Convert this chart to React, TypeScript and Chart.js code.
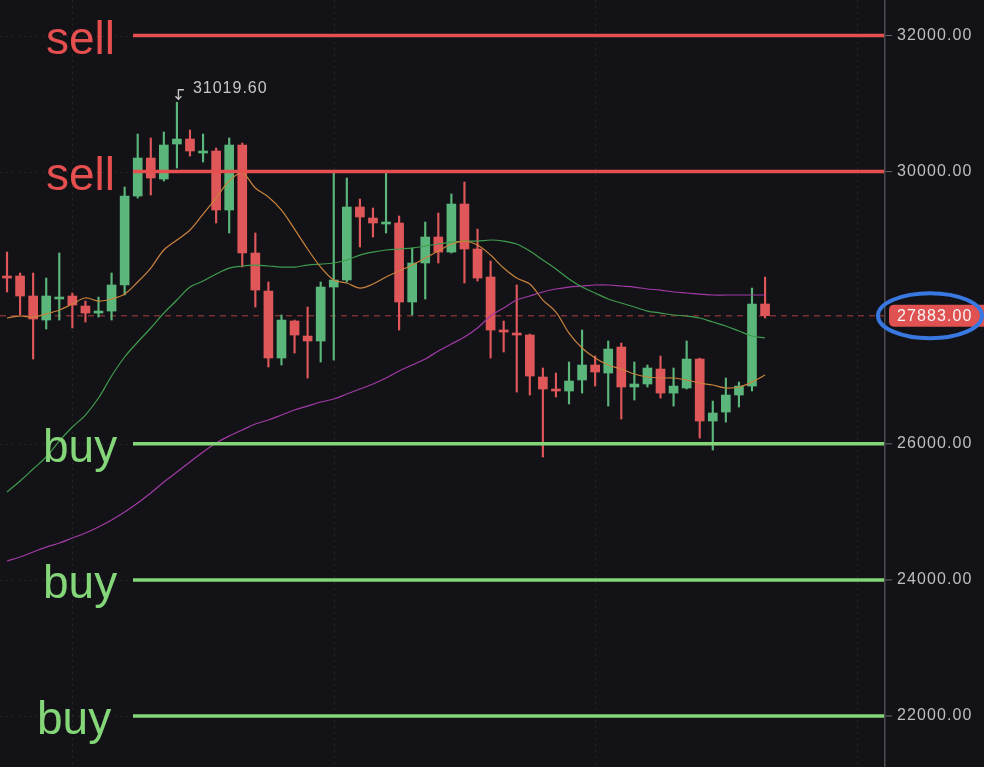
import React, { useEffect, useRef } from 'react';
import { Chart, registerables } from 'chart.js';

Chart.register(...registerables);

// ---- data ----
const opens = [28466, 28466, 28172, 27819, 28128, 28172, 28025, 27922, 27951, 28334, 29641, 30200, 29891, 30406, 30479, 30273, 30303, 29436, 30391, 28804, 28245, 27261, 27805, 27584, 27511, 28304, 28407, 29480, 29318, 29230, 29245, 28084, 28657, 29039, 28818, 29524, 28863, 28451, 27672, 27628, 27599, 26982, 26805, 26776, 26938, 27158, 27040, 27422, 26835, 26879, 27099, 26746, 26820, 27246, 26335, 26467, 26717, 26849, 28054];
const highs = [28818, 28510, 28510, 28436, 28804, 28216, 28098, 28157, 28510, 29774, 30552, 30494, 30582, 31019.6, 30611, 30552, 30347, 30494, 30420, 29098, 28378, 27893, 27819, 28010, 28378, 29994, 29906, 29597, 29465, 29979, 29348, 28877, 29259, 29392, 29671, 29847, 29156, 28686, 27805, 28334, 27614, 27114, 27040, 27202, 27672, 27290, 27511, 27481, 27202, 27158, 27290, 27114, 27511, 27260, 26629, 26967, 26908, 28289, 28451];
const lows = [28231, 27893, 27246, 27687, 27819, 27702, 27790, 27863, 27819, 28187, 29612, 29656, 29862, 30053, 30229, 30141, 29245, 29098, 28598, 28010, 27129, 27158, 27334, 26967, 27202, 27231, 28378, 28892, 29039, 29098, 27672, 27893, 28128, 28657, 28804, 28363, 28392, 27261, 27349, 26761, 26717, 25806, 26688, 26585, 26746, 26849, 26555, 26364, 26644, 26835, 26673, 26555, 26805, 26085, 25909, 26320, 26541, 26776, 27849];
const closes = [28436, 28172, 27834, 28172, 28157, 28040, 27922, 27951, 28334, 29641, 30200, 29906, 30391, 30479, 30303, 30303, 29436, 30391, 28804, 28260, 27261, 27819, 27599, 27511, 28304, 28407, 29480, 29333, 29245, 29259, 28084, 28657, 29039, 28818, 29524, 28863, 28436, 27672, 27643, 27599, 26996, 26805, 26776, 26923, 27158, 27055, 27393, 26835, 26879, 27114, 26746, 26849, 27246, 26335, 26453, 26717, 26849, 28054, 27883];

const maFast = [27849, 27878, 27863, 27907, 27966, 28054, 28143, 28098, 28128, 28201, 28378, 28583, 28848, 28995, 29142, 29377, 29612, 29862, 29979, 29759, 29627, 29436, 29156, 28863, 28598, 28407, 28363, 28289, 28348, 28451, 28539, 28627, 28730, 28833, 28936, 28980, 28921, 28774, 28583, 28436, 28348, 28113, 27937, 27628, 27408, 27261, 27158, 27099, 27026, 26982, 26967, 26967, 26938, 26893, 26864, 26820, 26835, 26908, 27011];
const maMid = [25292, 25453, 25630, 25806, 26041, 26247, 26423, 26673, 26996, 27276, 27496, 27702, 27922, 28113, 28304, 28392, 28495, 28583, 28613, 28627, 28613, 28598, 28598, 28627, 28642, 28657, 28701, 28774, 28818, 28848, 28863, 28877, 28907, 28936, 28965, 28980, 28980, 28995, 28980, 28936, 28833, 28701, 28569, 28422, 28304, 28216, 28128, 28069, 28010, 27951, 27922, 27893, 27878, 27849, 27790, 27731, 27658, 27584, 27555];
const maSlow = [24278, 24337, 24410, 24483, 24542, 24616, 24689, 24777, 24880, 24998, 25130, 25277, 25439, 25586, 25733, 25879, 26012, 26115, 26203, 26291, 26350, 26423, 26497, 26555, 26614, 26658, 26732, 26805, 26879, 26967, 27070, 27158, 27246, 27364, 27467, 27569, 27702, 27878, 27996, 28113, 28172, 28231, 28275, 28304, 28319, 28334, 28334, 28319, 28304, 28275, 28260, 28231, 28216, 28201, 28187, 28187, 28187, 28187, 28187];

const sellLevels = [32000, 30000];
const buyLevels = [26000, 24000, 22000];
const sellText = 'sell';
const buyText = 'buy';
const yTickValues = [22000, 24000, 26000, 30000, 32000];
const xGridIndex = [5, 25, 45, 65];

// ---- styles ----
const BG = '#131317';
const UP = '#5ab67a';
const DOWN = '#e0575a';
const SELL = '#e64f4f';
const BUY = '#84d679';
const FONT = "'Liberation Sans', Arial, Helvetica, sans-serif";

const Y_MIN = 21251;
const Y_MAX = 32522;
const X_MIN = -0.536;
const X_MAX = 67.1;

const overlay = {
  id: 'overlay',
  beforeDraw(chart: any) {
    const { ctx, width, height } = chart;
    ctx.save();
    ctx.fillStyle = BG;
    ctx.fillRect(0, 0, width, height);
    ctx.restore();
  },
  beforeDatasetsDraw(chart: any) {
    const { ctx, chartArea: a, scales } = chart;
    const x = scales.x, y = scales.y;
    ctx.save();
    ctx.strokeStyle = 'rgba(255,255,255,0.08)';
    ctx.lineWidth = 1;
    ctx.setLineDash([2, 4]);
    yTickValues.forEach((v) => {
      const py = Math.round(y.getPixelForValue(v)) + 0.5;
      ctx.beginPath(); ctx.moveTo(a.left, py); ctx.lineTo(a.right, py); ctx.stroke();
    });
    xGridIndex.forEach((v) => {
      const px = Math.round(x.getPixelForValue(v)) + 0.5;
      ctx.beginPath(); ctx.moveTo(px, a.top); ctx.lineTo(px, a.bottom); ctx.stroke();
    });
    // current price dashed line
    const last = closes[closes.length - 1];
    const py = y.getPixelForValue(last);
    ctx.strokeStyle = 'rgba(205,75,75,0.55)';
    ctx.lineWidth = 1.5;
    ctx.setLineDash([6, 5]);
    ctx.beginPath(); ctx.moveTo(a.left, py); ctx.lineTo(a.right, py); ctx.stroke();
    ctx.restore();
  },
  afterDatasetsDraw(chart: any) {
    const { ctx, chartArea: a, scales } = chart;
    const x = scales.x, y = scales.y;
    ctx.save();
    ctx.setLineDash([]);
    ctx.lineWidth = 3.5;
    ctx.font = `46px ${FONT}`;
    ctx.textBaseline = 'alphabetic';
    ctx.textAlign = 'left';
    sellLevels.forEach((v) => {
      const py = y.getPixelForValue(v);
      ctx.strokeStyle = SELL;
      ctx.beginPath(); ctx.moveTo(133, py); ctx.lineTo(a.right, py); ctx.stroke();
      ctx.fillStyle = SELL;
      ctx.fillText(sellText, 46, py + 18);
    });
    buyLevels.forEach((v, i) => {
      const py = y.getPixelForValue(v);
      ctx.strokeStyle = BUY;
      ctx.beginPath(); ctx.moveTo(133, py); ctx.lineTo(a.right, py); ctx.stroke();
      ctx.fillStyle = BUY;
      ctx.fillText(buyText, i === buyLevels.length - 1 ? 37 : 43, py + 18);
    });

    // highest high annotation
    let hi = 0;
    highs.forEach((h, i) => { if (h > highs[hi]) hi = i; });
    const hx = x.getPixelForValue(hi);
    const hy = y.getPixelForValue(highs[hi]);
    ctx.strokeStyle = '#c8c8c8';
    ctx.lineWidth = 1.3;
    ctx.beginPath();
    ctx.moveTo(hx + 7, hy - 12.5);
    ctx.lineTo(hx + 1.5, hy - 12.5);
    ctx.lineTo(hx + 1.5, hy - 3);
    ctx.stroke();
    ctx.beginPath();
    ctx.moveTo(hx - 1.5, hy - 6);
    ctx.lineTo(hx + 1.5, hy - 3);
    ctx.lineTo(hx + 4.5, hy - 6);
    ctx.stroke();
    ctx.fillStyle = '#c8c8c8';
    ctx.font = `16px ${FONT}`;
    ctx.textBaseline = 'middle';
    try { (ctx as any).letterSpacing = '1px'; } catch (e) {}
    ctx.fillText(highs[hi].toFixed(2), hx + 16, hy - 14);
    try { (ctx as any).letterSpacing = '0px'; } catch (e) {}
    ctx.restore();
  },
  afterDraw(chart: any) {
    const { ctx, chartArea: a, scales, width } = chart;
    const y = scales.y;
    ctx.save();
    // axis border
    ctx.strokeStyle = '#4c4c52';
    ctx.lineWidth = 1.5;
    ctx.beginPath(); ctx.moveTo(a.right + 0.75, 0); ctx.lineTo(a.right + 0.75, chart.height); ctx.stroke();
    // tick marks + labels
    ctx.font = `16px ${FONT}`;
    ctx.textBaseline = 'middle';
    ctx.textAlign = 'left';
    try { (ctx as any).letterSpacing = '1.1px'; } catch (e) {}
    yTickValues.forEach((v) => {
      const py = y.getPixelForValue(v);
      ctx.strokeStyle = '#6a6a70';
      ctx.lineWidth = 1;
      ctx.beginPath(); ctx.moveTo(a.right + 1.5, py); ctx.lineTo(a.right + 8, py); ctx.stroke();
      ctx.fillStyle = '#bdbdc2';
      ctx.fillText(v.toFixed(2), a.right + 13, py);
    });
    // price pill
    const last = closes[closes.length - 1];
    const py = y.getPixelForValue(last);
    const lx = a.right + 5;
    const r = 5;
    ctx.fillStyle = '#e05252';
    ctx.beginPath();
    ctx.moveTo(lx + r, py - 11);
    ctx.lineTo(width + 10, py - 11);
    ctx.lineTo(width + 10, py + 11);
    ctx.lineTo(lx + r, py + 11);
    ctx.arcTo(lx, py + 11, lx, py + 11 - r, r);
    ctx.lineTo(lx, py - 11 + r);
    ctx.arcTo(lx, py - 11, lx + r, py - 11, r);
    ctx.closePath();
    ctx.fill();
    ctx.fillStyle = '#f4f4f4';
    ctx.fillText(last.toFixed(2), a.right + 13, py + 0.5);
    try { (ctx as any).letterSpacing = '0px'; } catch (e) {}
    // blue highlight ellipse
    ctx.strokeStyle = '#3978e0';
    ctx.lineWidth = 4;
    ctx.beginPath();
    ctx.ellipse(a.right + 46, py, 52, 22.5, 0, 0, Math.PI * 2);
    ctx.stroke();
    ctx.restore();
  },
};

export default function App() {
  const ref = useRef<HTMLCanvasElement | null>(null);
  useEffect(() => {
    document.body.style.margin = '0';
    document.body.style.background = BG;
    const canvas = ref.current;
    if (!canvas) return;
    const colors = opens.map((o, i) => (closes[i] >= o ? UP : DOWN));
    const chart = new Chart(canvas, {
      type: 'bar',
      data: {
        datasets: [
          {
            type: 'line',
            label: 'MA fast',
            data: maFast.map((v, i) => ({ x: i, y: v })),
            borderColor: '#c9833c',
            borderWidth: 1.2,
            pointRadius: 0,
            tension: 0.35,
            order: -3,
          } as any,
          {
            type: 'line',
            label: 'MA mid',
            data: maMid.map((v, i) => ({ x: i, y: v })),
            borderColor: '#3f9c4e',
            borderWidth: 1.2,
            pointRadius: 0,
            tension: 0.35,
            order: -2,
          } as any,
          {
            type: 'line',
            label: 'MA slow',
            data: maSlow.map((v, i) => ({ x: i, y: v })),
            borderColor: '#a23aa6',
            borderWidth: 1.2,
            pointRadius: 0,
            tension: 0.35,
            order: -1,
          } as any,
          {
            type: 'bar',
            label: 'body',
            data: opens.map((o, i) => ({ x: i, y: [o, closes[i]] })),
            backgroundColor: colors,
            borderWidth: 0,
            barThickness: 9,
            minBarLength: 2,
            grouped: false,
            order: 1,
          } as any,
          {
            type: 'bar',
            label: 'wick',
            data: lows.map((l, i) => ({ x: i, y: [l, highs[i]] })),
            backgroundColor: colors,
            borderWidth: 0,
            barThickness: 1.5,
            grouped: false,
            order: 2,
          } as any,
        ],
      },
      options: {
        responsive: false,
        animation: false,
        devicePixelRatio: 1,
        events: [],
        layout: { padding: 0 },
        plugins: { legend: { display: false }, tooltip: { enabled: false } },
        scales: {
          x: {
            type: 'linear',
            min: X_MIN,
            max: X_MAX,
            display: false,
            offset: false,
          },
          y: {
            type: 'linear',
            position: 'right',
            min: Y_MIN,
            max: Y_MAX,
            ticks: { display: false },
            grid: { display: false, drawTicks: false },
            border: { display: false },
            afterFit: (s: any) => { s.width = 100; },
          },
        },
      } as any,
      plugins: [overlay],
    });
    return () => chart.destroy();
  }, []);
  return <canvas ref={ref} width={984} height={767} style={{ display: 'block', width: 984, height: 767 }} />;
}
